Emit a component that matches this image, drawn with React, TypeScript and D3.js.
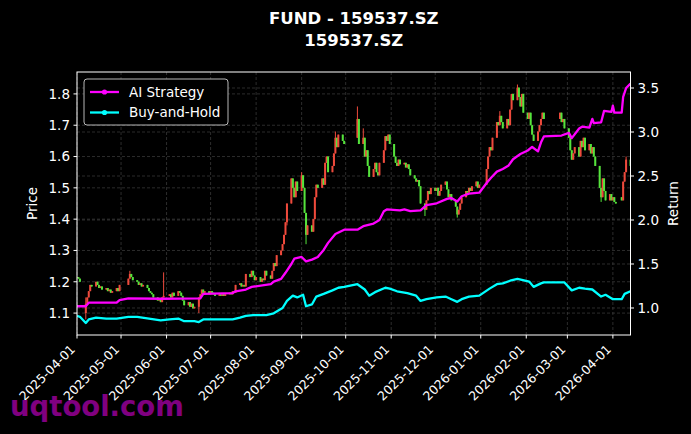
import React, { useEffect, useRef } from 'react';
import * as d3 from 'd3';

const titleLines = ['FUND - 159537.SZ', '159537.SZ'];

// exchange holidays (weekdays with no trading)
const holidays = [
  '2025-04-04', '2025-05-01', '2025-05-02', '2025-05-05', '2025-06-02',
  '2025-10-01', '2025-10-02', '2025-10-03', '2025-10-06', '2025-10-07', '2025-10-08',
  '2026-01-01', '2026-01-02', '2026-02-16', '2026-02-17', '2026-02-18', '2026-02-19',
  '2026-02-20', '2026-02-23', '2026-04-06'
];

// daily closes, one row per month (2025-04 .. 2026-04)
const monthlyCloses: number[][] = [
  [1.215, 1.21, 1.20, 1.13, 1.15, 1.17, 1.19, 1.185, 1.20, 1.19, 1.18, 1.185, 1.175, 1.18, 1.17, 1.175, 1.165, 1.17, 1.18, 1.17, 1.19],
  [1.21, 1.225, 1.215, 1.205, 1.20, 1.19, 1.195, 1.185, 1.19, 1.18, 1.17, 1.165, 1.16, 1.15, 1.14, 1.145, 1.135, 1.15, 1.155],
  [1.16, 1.15, 1.165, 1.155, 1.17, 1.165, 1.155, 1.14, 1.125, 1.135, 1.12, 1.13, 1.115, 1.12, 1.15, 1.16, 1.175, 1.165, 1.17, 1.16],
  [1.17, 1.165, 1.16, 1.155, 1.16, 1.155, 1.16, 1.155, 1.16, 1.165, 1.16, 1.17, 1.165, 1.19, 1.195, 1.185, 1.19, 1.185, 1.225, 1.215, 1.235, 1.22, 1.205],
  [1.215, 1.20, 1.21, 1.205, 1.235, 1.22, 1.21, 1.235, 1.26, 1.25, 1.285, 1.30, 1.32, 1.35, 1.39, 1.45, 1.53, 1.50, 1.47, 1.52, 1.49],
  [1.54, 1.50, 1.42, 1.35, 1.38, 1.36, 1.40, 1.47, 1.51, 1.50, 1.53, 1.51, 1.58, 1.60, 1.55, 1.57, 1.61, 1.66, 1.63, 1.67, 1.65, 1.64],
  [1.72, 1.64, 1.66, 1.60, 1.62, 1.57, 1.535, 1.56, 1.58, 1.55, 1.54, 1.58, 1.62, 1.665, 1.65, 1.67, 1.64],
  [1.60, 1.58, 1.57, 1.59, 1.575, 1.58, 1.565, 1.575, 1.56, 1.54, 1.53, 1.52, 1.525, 1.505, 1.45, 1.43, 1.46, 1.49, 1.48, 1.50],
  [1.49, 1.50, 1.475, 1.49, 1.51, 1.52, 1.495, 1.47, 1.48, 1.46, 1.44, 1.415, 1.43, 1.45, 1.47, 1.49, 1.485, 1.50, 1.49, 1.505, 1.52, 1.50, 1.51],
  [1.56, 1.60, 1.63, 1.62, 1.66, 1.71, 1.70, 1.73, 1.71, 1.69, 1.72, 1.70, 1.75, 1.80, 1.78, 1.82, 1.79, 1.76, 1.80, 1.74],
  [1.72, 1.74, 1.70, 1.67, 1.65, 1.68, 1.70, 1.72, 1.74, 1.72, 1.74, 1.71, 1.72, 1.69],
  [1.66, 1.62, 1.59, 1.61, 1.63, 1.60, 1.65, 1.63, 1.66, 1.62, 1.64, 1.61, 1.63, 1.60, 1.57, 1.50, 1.47, 1.53, 1.49, 1.46, 1.48, 1.46],
  [1.47, 1.455, 1.45, 1.46, 1.52, 1.55, 1.59, 1.57]
];

// days whose open / high / low differ from the plain previous-close candle
const candleOverrides: { date: string; open?: number; high?: number; low?: number }[] = [
  { date: '2025-04-07', open: 1.10, high: 1.15, low: 1.08 },
  { date: '2025-05-07', high: 1.235 },
  { date: '2025-05-30', high: 1.23 },
  { date: '2025-06-23', low: 1.10 },
  { date: '2025-08-22', low: 1.38 },
  { date: '2025-09-01', high: 1.55 },
  { date: '2025-09-04', low: 1.32 },
  { date: '2025-09-24', high: 1.68 },
  { date: '2025-10-09', open: 1.66, high: 1.76 },
  { date: '2025-10-13', high: 1.69 },
  { date: '2025-11-24', low: 1.41 },
  { date: '2025-12-16', low: 1.405 },
  { date: '2026-01-14', high: 1.745 },
  { date: '2026-01-26', high: 1.83 },
  { date: '2026-03-24', low: 1.455 },
  { date: '2026-04-07', open: 1.47 },
  { date: '2026-04-10', high: 1.60 }
];

const aiStrategy: [string, number][] = [
  ['2025-04-01', 1.02], ['2025-04-07', 1.02], ['2025-04-09', 1.06], ['2025-04-28', 1.06],
  ['2025-04-30', 1.09], ['2025-05-06', 1.11], ['2025-05-28', 1.105], ['2025-06-24', 1.11],
  ['2025-06-26', 1.16], ['2025-07-16', 1.17], ['2025-07-18', 1.19], ['2025-07-25', 1.21],
  ['2025-07-29', 1.24], ['2025-08-11', 1.27], ['2025-08-13', 1.30], ['2025-08-18', 1.33],
  ['2025-08-21', 1.40], ['2025-08-25', 1.50], ['2025-08-27', 1.56], ['2025-09-01', 1.58],
  ['2025-09-04', 1.53], ['2025-09-08', 1.55], ['2025-09-12', 1.58], ['2025-09-16', 1.66],
  ['2025-09-19', 1.74], ['2025-09-24', 1.84], ['2025-09-30', 1.89], ['2025-10-09', 1.89],
  ['2025-10-13', 1.93], ['2025-10-20', 1.96], ['2025-10-24', 2.00], ['2025-10-27', 2.10],
  ['2025-10-29', 2.12], ['2025-11-07', 2.11], ['2025-11-10', 2.12], ['2025-11-14', 2.10],
  ['2025-11-21', 2.11], ['2025-11-25', 2.17], ['2025-12-02', 2.19], ['2025-12-09', 2.24],
  ['2025-12-12', 2.25], ['2025-12-16', 2.21], ['2025-12-19', 2.27], ['2025-12-24', 2.30],
  ['2025-12-31', 2.31], ['2026-01-05', 2.42], ['2026-01-08', 2.48], ['2026-01-12', 2.55],
  ['2026-01-16', 2.58], ['2026-01-20', 2.62], ['2026-01-23', 2.69], ['2026-01-28', 2.75],
  ['2026-02-02', 2.79], ['2026-02-05', 2.83], ['2026-02-09', 2.78], ['2026-02-11', 2.88],
  ['2026-02-13', 2.95], ['2026-02-25', 2.96], ['2026-03-02', 2.99], ['2026-03-04', 2.93],
  ['2026-03-09', 3.04], ['2026-03-11', 3.06], ['2026-03-16', 3.05], ['2026-03-18', 3.15],
  ['2026-03-19', 3.10], ['2026-03-24', 3.11], ['2026-03-26', 3.24], ['2026-03-31', 3.23],
  ['2026-04-01', 3.30], ['2026-04-02', 3.22], ['2026-04-07', 3.22], ['2026-04-08', 3.40],
  ['2026-04-10', 3.50], ['2026-04-13', 3.55]
];

const buyAndHold: [string, number][] = [
  ['2025-04-01', 0.91], ['2025-04-03', 0.90], ['2025-04-07', 0.83], ['2025-04-09', 0.87],
  ['2025-04-14', 0.89], ['2025-04-21', 0.88], ['2025-04-28', 0.88], ['2025-05-06', 0.90],
  ['2025-05-12', 0.90], ['2025-05-20', 0.88], ['2025-05-28', 0.86], ['2025-06-03', 0.87],
  ['2025-06-09', 0.88], ['2025-06-13', 0.85], ['2025-06-20', 0.85], ['2025-06-23', 0.84],
  ['2025-06-26', 0.87], ['2025-07-07', 0.87], ['2025-07-16', 0.87], ['2025-07-21', 0.89],
  ['2025-07-25', 0.91], ['2025-07-30', 0.92], ['2025-08-08', 0.92], ['2025-08-13', 0.94],
  ['2025-08-19', 1.00], ['2025-08-22', 1.08], ['2025-08-26', 1.14], ['2025-08-29', 1.12],
  ['2025-09-02', 1.15], ['2025-09-04', 1.02], ['2025-09-08', 1.04], ['2025-09-11', 1.13],
  ['2025-09-16', 1.16], ['2025-09-22', 1.20], ['2025-09-26', 1.23], ['2025-09-30', 1.24],
  ['2025-10-09', 1.27], ['2025-10-14', 1.21], ['2025-10-17', 1.14], ['2025-10-21', 1.18],
  ['2025-10-28', 1.23], ['2025-10-31', 1.22], ['2025-11-05', 1.19], ['2025-11-12', 1.17],
  ['2025-11-18', 1.14], ['2025-11-21', 1.08], ['2025-11-25', 1.10], ['2025-12-02', 1.12],
  ['2025-12-08', 1.13], ['2025-12-12', 1.10], ['2025-12-16', 1.07], ['2025-12-19', 1.10],
  ['2025-12-24', 1.13], ['2025-12-31', 1.14], ['2026-01-07', 1.22], ['2026-01-12', 1.27],
  ['2026-01-16', 1.28], ['2026-01-21', 1.31], ['2026-01-26', 1.33], ['2026-01-29', 1.32],
  ['2026-02-03', 1.30], ['2026-02-06', 1.24], ['2026-02-11', 1.28], ['2026-02-13', 1.29],
  ['2026-02-27', 1.29], ['2026-03-04', 1.20], ['2026-03-09', 1.23], ['2026-03-13', 1.22],
  ['2026-03-18', 1.21], ['2026-03-24', 1.13], ['2026-03-27', 1.15], ['2026-04-01', 1.10],
  ['2026-04-07', 1.10], ['2026-04-09', 1.16], ['2026-04-13', 1.19]
];

const priceTicks = [1.1, 1.2, 1.3, 1.4, 1.5, 1.6, 1.7, 1.8];
const returnTicks = [1.0, 1.5, 2.0, 2.5, 3.0, 3.5];
const monthTicks = [
  '2025-04-01', '2025-05-01', '2025-06-01', '2025-07-01', '2025-08-01', '2025-09-01',
  '2025-10-01', '2025-11-01', '2025-12-01', '2026-01-01', '2026-02-01', '2026-03-01', '2026-04-01'
];

const legendItems = [
  { label: 'AI Strategy', color: '#ff00ff' },
  { label: 'Buy-and-Hold', color: '#00ffff' }
];

const parse = d3.utcParse('%Y-%m-%d');
const fmt = d3.utcFormat('%Y-%m-%d');

const App = () => {
  const svgRef = useRef(null);

  useEffect(() => {
    document.body.style.margin = '0';
    document.body.style.background = '#000';

    const width = 691;
    const height = 434;
    const margin = { top: 72, right: 60.5, bottom: 99, left: 77 };
    const font = '"DejaVu Sans", sans-serif';
    const up = '#ee4a3c';
    const down = '#55e33c';

    d3.select(svgRef.current).selectAll('*').remove();
    const svg = d3.select(svgRef.current)
      .attr('width', width)
      .attr('height', height)
      .style('background', '#000')
      .style('display', 'block');

    const x0 = margin.left;
    const x1 = width - margin.right;
    const y0 = margin.top;
    const y1 = height - margin.bottom;

    // trading calendar
    const holidaySet = new Set(holidays);
    const days = d3.utcDay
      .range(parse('2025-04-01')!, parse('2026-04-14')!)
      .filter(d => d.getUTCDay() !== 0 && d.getUTCDay() !== 6 && !holidaySet.has(fmt(d)));
    const closes = monthlyCloses.flat();
    const overrideMap = new Map(candleOverrides.map(o => [o.date, o]));

    const candles = days.slice(0, closes.length).map((date, i) => {
      const close = closes[i];
      const ov = overrideMap.get(fmt(date));
      const open = ov?.open ?? (i > 0 ? closes[i - 1] : close);
      const high = Math.max(ov?.high ?? 0, open, close);
      const low = Math.min(ov?.low ?? 99, open, close);
      return { date, open, high, low, close };
    });

    const xScale = d3.scaleUtc()
      .domain([parse('2025-04-01')!, parse('2026-04-13')!])
      .range([x0, x1]);
    const yPrice = d3.scaleLinear().domain([1.03, 1.87]).range([y1, y0]);
    const yReturn = d3.scaleLinear().domain([0.693, 3.682]).range([y1, y0]);

    svg.append('defs').append('clipPath').attr('id', 'plot-clip')
      .append('rect')
      .attr('x', x0).attr('y', y0)
      .attr('width', x1 - x0).attr('height', y1 - y0);

    // gridlines
    const grid = svg.append('g')
      .attr('stroke', '#6a6a6a')
      .attr('stroke-width', 0.6)
      .attr('stroke-dasharray', '3,2')
      .attr('opacity', 0.7);
    monthTicks.forEach(t => {
      const gx = xScale(parse(t)!);
      grid.append('line').attr('x1', gx).attr('x2', gx).attr('y1', y0).attr('y2', y1);
    });
    priceTicks.forEach(t => {
      grid.append('line').attr('x1', x0).attr('x2', x1).attr('y1', yPrice(t)).attr('y2', yPrice(t));
    });
    returnTicks.forEach(t => {
      grid.append('line').attr('x1', x0).attr('x2', x1).attr('y1', yReturn(t)).attr('y2', yReturn(t));
    });

    // candles
    const candleG = svg.append('g').attr('clip-path', 'url(#plot-clip)');
    candles.forEach(c => {
      const cx = xScale(c.date);
      const color = c.close >= c.open ? up : down;
      candleG.append('line')
        .attr('x1', cx).attr('x2', cx)
        .attr('y1', yPrice(c.high)).attr('y2', yPrice(c.low))
        .attr('stroke', color)
        .attr('stroke-width', 1);
      const top = yPrice(Math.max(c.open, c.close));
      const bot = yPrice(Math.min(c.open, c.close));
      candleG.append('rect')
        .attr('x', cx - 1)
        .attr('y', top)
        .attr('width', 2)
        .attr('height', Math.max(bot - top, 1))
        .attr('fill', color);
    });

    // return lines
    const line = d3.line<[string, number]>()
      .x(d => xScale(parse(d[0])!))
      .y(d => yReturn(d[1]));
    const lineG = svg.append('g').attr('clip-path', 'url(#plot-clip)');
    [
      { data: buyAndHold, color: '#00ffff' },
      { data: aiStrategy, color: '#ff00ff' }
    ].forEach(s => {
      lineG.append('path')
        .attr('d', line(s.data))
        .attr('fill', 'none')
        .attr('stroke', s.color)
        .attr('stroke-width', 2.3)
        .attr('stroke-linejoin', 'round');
    });

    // frame
    svg.append('rect')
      .attr('x', x0).attr('y', y0)
      .attr('width', x1 - x0).attr('height', y1 - y0)
      .attr('fill', 'none')
      .attr('stroke', '#fff')
      .attr('stroke-width', 1);

    // left axis
    const leftAxis = svg.append('g');
    priceTicks.forEach(t => {
      const ty = yPrice(t);
      leftAxis.append('line').attr('x1', x0 - 3.5).attr('x2', x0).attr('y1', ty).attr('y2', ty)
        .attr('stroke', '#fff');
      leftAxis.append('text')
        .attr('x', x0 - 7).attr('y', ty).attr('dy', '0.36em')
        .attr('text-anchor', 'end')
        .attr('fill', '#fff')
        .style('font-family', font).style('font-size', '13.5px')
        .text(t.toFixed(1));
    });

    // right axis
    const rightAxis = svg.append('g');
    returnTicks.forEach(t => {
      const ty = yReturn(t);
      rightAxis.append('line').attr('x1', x1).attr('x2', x1 + 3.5).attr('y1', ty).attr('y2', ty)
        .attr('stroke', '#fff');
      rightAxis.append('text')
        .attr('x', x1 + 7).attr('y', ty).attr('dy', '0.36em')
        .attr('fill', '#fff')
        .style('font-family', font).style('font-size', '13.5px')
        .text(t.toFixed(1));
    });

    // bottom axis
    const bottomAxis = svg.append('g');
    monthTicks.forEach(t => {
      const tx = xScale(parse(t)!);
      bottomAxis.append('line').attr('x1', tx).attr('x2', tx).attr('y1', y1).attr('y2', y1 + 3.5)
        .attr('stroke', '#fff');
      bottomAxis.append('text')
        .attr('transform', `translate(${tx - 1},${y1 + 15}) rotate(-45)`)
        .attr('text-anchor', 'end')
        .attr('fill', '#fff')
        .style('font-family', font).style('font-size', '12.5px')
        .text(t);
    });

    // axis labels
    svg.append('text')
      .attr('transform', `translate(37,${(y0 + y1) / 2}) rotate(-90)`)
      .attr('text-anchor', 'middle')
      .attr('fill', '#fff')
      .style('font-family', font).style('font-size', '13.5px')
      .text('Price');
    svg.append('text')
      .attr('transform', `translate(678,${(y0 + y1) / 2}) rotate(-90)`)
      .attr('text-anchor', 'middle')
      .attr('fill', '#fff')
      .style('font-family', font).style('font-size', '13.5px')
      .text('Return');

    // title
    titleLines.forEach((t, i) => {
      svg.append('text')
        .attr('x', (x0 + x1) / 2)
        .attr('y', 24 + i * 22)
        .attr('text-anchor', 'middle')
        .attr('fill', '#fff')
        .style('font-family', font).style('font-size', '16.5px').style('font-weight', 'bold')
        .text(t);
    });

    // legend
    const legend = svg.append('g').attr('transform', `translate(${x0 + 7},${y0 + 7})`);
    legend.append('rect')
      .attr('width', 144).attr('height', 46)
      .attr('rx', 3)
      .attr('fill', '#000')
      .attr('stroke', '#cccccc')
      .attr('stroke-width', 0.9);
    legendItems.forEach((item, i) => {
      const ly = 13 + i * 20.5;
      legend.append('line')
        .attr('x1', 6).attr('x2', 35).attr('y1', ly).attr('y2', ly)
        .attr('stroke', item.color).attr('stroke-width', 2.3);
      legend.append('circle')
        .attr('cx', 20.5).attr('cy', ly).attr('r', 2.6)
        .attr('fill', item.color);
      legend.append('text')
        .attr('x', 45).attr('y', ly).attr('dy', '0.36em')
        .attr('fill', '#fff')
        .style('font-family', font).style('font-size', '13.5px')
        .text(item.label);
    });

    // watermark
    svg.append('text')
      .attr('x', 10)
      .attr('y', 416)
      .attr('fill', '#800080')
      .style('font-family', font).style('font-size', '27.5px').style('font-weight', 'bold')
      .text('uqtool.com');
  }, []);

  return <svg ref={svgRef}></svg>;
};

export default App;
